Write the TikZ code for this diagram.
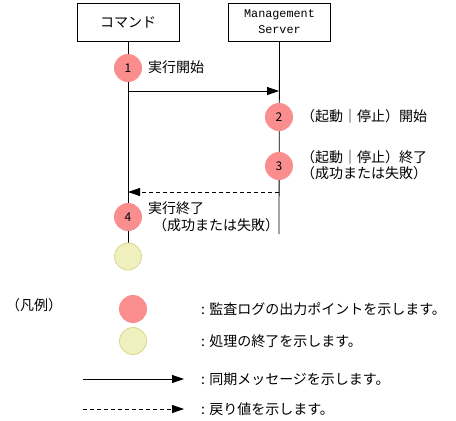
\documentclass[tikz,border=0pt]{standalone}
\usepackage{fontspec}
\setmainfont{Noto Sans CJK JP}
\newfontfamily\monofnt{Liberation Mono}
\usetikzlibrary{arrows.meta}
\definecolor{auditpink}{RGB}{250,142,142}
\definecolor{endyellow}{RGB}{240,240,190}
\definecolor{endborder}{RGB}{215,215,140}
\tikzset{
  jtext/.style={font=\fontsize{14}{17}\selectfont, inner sep=0pt},
  lifebox/.style={draw, line width=0.8pt, minimum width=102pt, minimum height=38pt, inner sep=0pt},
  life/.style={line width=0.8pt},
  audit/.style={circle, fill=auditpink, minimum size=28pt, inner sep=0pt, font=\fontsize{12}{14}\selectfont},
  endpt/.style={circle, fill=endyellow, draw=endborder, line width=0.8pt, minimum size=27pt, inner sep=0pt},
  syncmsg/.style={line width=0.8pt, -{Triangle[length=12pt,width=8pt]}},
  retmsg/.style={line width=0.8pt, dashed, dash pattern=on 4pt off 3pt, -{Triangle[length=12pt,width=8pt]}},
}
\begin{document}
\begin{tikzpicture}[x=1pt,y=-1pt]
\useasboundingbox (0,0) rectangle (456,421);
% boxes
\node[lifebox, jtext] (cmd) at (128,22) {コマンド};
\node[lifebox, align=center, font=\monofnt\fontsize{11.8}{16}\selectfont] (srv) at (279.5,22) {Management\\Server};
% lifelines end coordinates
\coordinate (cmdend) at (128,243);
\coordinate (srvend) at (279,234);
\draw[life] (cmd.south) -- (cmdend);
\draw[life] (srv.south) -- (srvend);
% audit points
\node[audit] (a1) at (128,68) {1};
\node[audit] (a2) at (279,117) {2};
\node[audit] (a3) at (279,166) {3};
\node[audit] (a4) at (128,217) {4};
\node[endpt] (e1) at (128,256.5) {};
% labels
\node[jtext, anchor=west] (t1) at (148,67) {実行開始};
\node[jtext, anchor=west] (t2) at (301,116) {（起動｜停止）開始};
\node[jtext, anchor=west] (t3a) at (301,157) {（起動｜停止）終了};
\node[jtext, anchor=west] (t3b) at (301,173) {（成功または失敗）};
\node[jtext, anchor=west] (t4a) at (148,208) {実行終了};
\node[jtext, anchor=west] (t4b) at (153,225) {（成功または失敗）};
% messages
\coordinate (m1s) at (128,91);
\coordinate (m1e) at (279,91);
\draw[syncmsg] (m1s) -- (m1e);
\coordinate (m2s) at (279,192);
\coordinate (m2e) at (128,192);
\draw[retmsg] (m2s) -- (m2e);
% legend
\node[jtext, anchor=west] (leg) at (6,305) {（凡例）};
\node[audit] (l1) at (133,309) {};
\node[endpt] (l2) at (133,341) {};
\coordinate (l3s) at (83,379);
\coordinate (l3e) at (184,379);
\draw[syncmsg] (l3s) -- (l3e);
\coordinate (l4s) at (83,409);
\coordinate (l4e) at (184,409);
\draw[retmsg] (l4s) -- (l4e);
\node[jtext, anchor=west] (d1) at (201,309) {: 監査ログの出力ポイントを示します。};
\node[jtext, anchor=west] (d2) at (201,341) {: 処理の終了を示します。};
\node[jtext, anchor=west] (d3) at (201,379) {: 同期メッセージを示します。};
\node[jtext, anchor=west] (d4) at (201,409) {: 戻り値を示します。};
\end{tikzpicture}
\end{document}
